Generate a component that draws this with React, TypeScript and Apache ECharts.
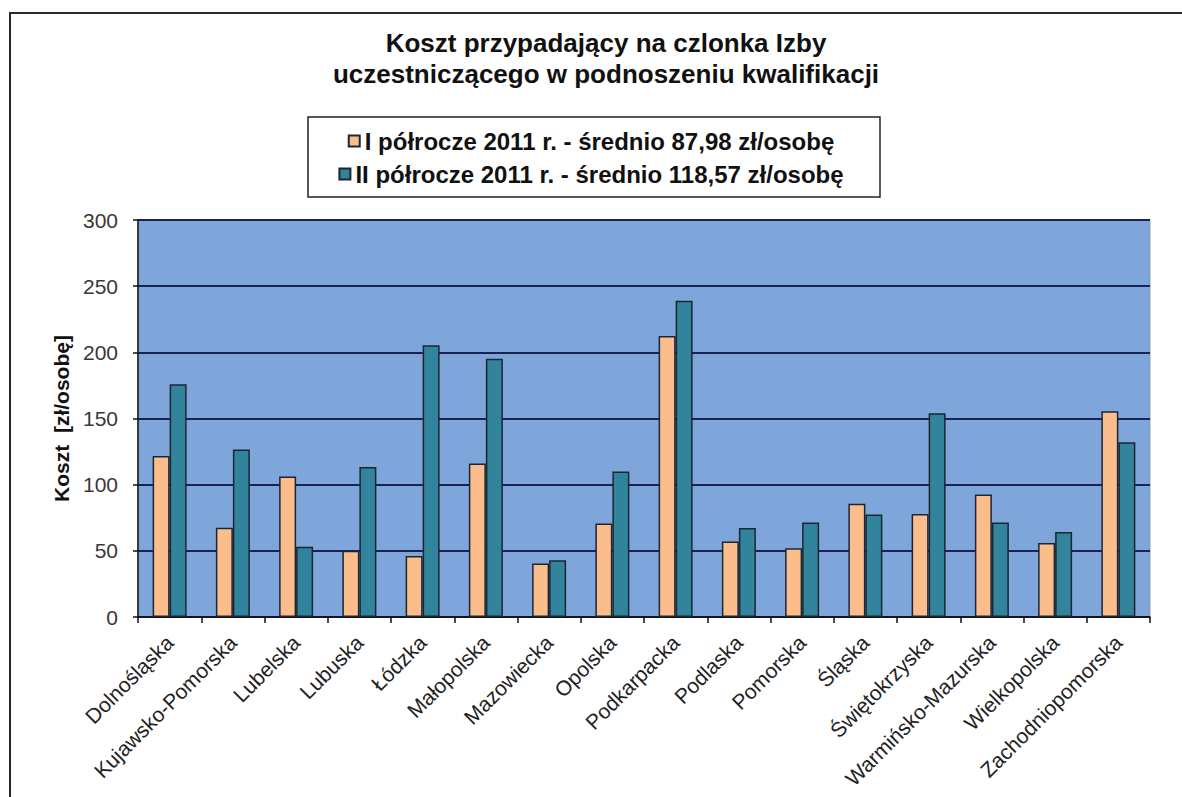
import React, { useEffect, useRef } from "react";
import * as echarts from "echarts";

const titleLines = ["Koszt przypadający na czlonka Izby", "uczestniczącego w podnoszeniu kwalifikacji"];
const seriesNames = [
  "I półrocze 2011 r. - średnio 87,98 zł/osobę",
  "II półrocze 2011 r. - średnio 118,57 zł/osobę",
];
const categories = [
  "Dolnośląska",
  "Kujawsko-Pomorska",
  "Lubelska",
  "Lubuska",
  "Łódzka",
  "Małopolska",
  "Mazowiecka",
  "Opolska",
  "Podkarpacka",
  "Podlaska",
  "Pomorska",
  "Śląska",
  "Świętokrzyska",
  "Warmińsko-Mazurska",
  "Wielkopolska",
  "Zachodniopomorska",
];
const half1 = [121.6, 67.5, 106.2, 50.1, 46.1, 116.0, 40.5, 70.7, 212.4, 57.1, 51.9, 85.6, 77.8, 92.6, 55.9, 155.5];
const half2 = [175.9, 126.6, 53.1, 113.3, 205.4, 195.1, 42.8, 110.0, 238.9, 67.2, 71.5, 77.5, 154.0, 71.5, 64.2, 132.1];
const yAxisName = "Koszt  [zł/osobę]";
const yTicks = { min: 0, max: 300, interval: 50 };

const FONT = "'Liberation Sans', Arial, sans-serif";

export default function App() {
  const ref = useRef<HTMLDivElement>(null);
  useEffect(() => {
    if (!ref.current) return;
    const chart = echarts.init(ref.current, null, { renderer: "svg" });
    const borderColor = "#1c2633";
    const legendText = { fontFamily: FONT, fontWeight: "bold", fontSize: 24, color: "#111" };
    chart.setOption({
      animation: false,
      backgroundColor: "#ffffff",
      graphic: [
        {
          type: "rect",
          shape: { x: 10, y: 13, width: 1200, height: 820 },
          style: { fill: "none", stroke: "#2a2a2a", lineWidth: 2 },
          silent: true,
        },
        {
          type: "rect",
          shape: { x: 308, y: 117, width: 572, height: 80 },
          style: { fill: "#ffffff", stroke: "#222", lineWidth: 1.5 },
          z: -1,
          silent: true,
        },
        {
          type: "text",
          x: 606,
          y: 27,
          style: {
            text: titleLines.join("\n"),
            font: `bold 26px ${FONT}`,
            fill: "#111",
            textAlign: "center",
            lineHeight: 31,
          },
        },
      ],
      legend: [
        {
          data: [seriesNames[0]],
          left: "center",
          top: 129,
          padding: 0,
          itemWidth: 11,
          itemHeight: 11,
          icon: "rect",
          textStyle: legendText,
        },
        {
          data: [seriesNames[1]],
          left: "center",
          top: 162,
          padding: 0,
          itemWidth: 11,
          itemHeight: 11,
          icon: "rect",
          textStyle: legendText,
        },
      ],
      grid: {
        left: 138,
        top: 220,
        right: 32,
        bottom: 180,
        show: true,
        backgroundColor: "#7ea6da",
        borderColor: "#8c9bb0",
        borderWidth: 1,
      },
      xAxis: {
        type: "category",
        data: categories,
        axisLine: { lineStyle: { color: "#111", width: 1.5 } },
        axisTick: { show: true, length: 6, interval: 0, lineStyle: { color: "#111", width: 1.5 } },
        axisLabel: {
          interval: 0,
          rotate: 45,
          fontFamily: FONT,
          fontSize: 21,
          color: "#222",
          margin: 22,
        },
      },
      yAxis: {
        type: "value",
        min: yTicks.min,
        max: yTicks.max,
        interval: yTicks.interval,
        name: yAxisName,
        nameLocation: "middle",
        nameGap: 52,
        nameTextStyle: { fontFamily: FONT, fontWeight: "bold", fontSize: 21, color: "#111" },
        axisLine: { show: true, lineStyle: { color: "#111", width: 1.5 } },
        axisTick: { show: true, length: 5, lineStyle: { color: "#111", width: 1.5 } },
        axisLabel: { fontFamily: FONT, fontSize: 21, color: "#383838", margin: 20 },
        splitLine: { show: true, lineStyle: { color: "#1b2150", width: 2 } },
      },
      series: [
        {
          name: seriesNames[0],
          type: "bar",
          data: half1,
          barWidth: 17,
          barGap: "0%",
          itemStyle: { color: "#fbbd8b", borderColor, borderWidth: 1.5 },
        },
        {
          name: seriesNames[1],
          type: "bar",
          data: half2,
          barWidth: 17,
          barGap: "0%",
          itemStyle: { color: "#31849b", borderColor, borderWidth: 1.5 },
        },
      ],
    });
    return () => chart.dispose();
  }, []);
  return (
    <div
      ref={ref}
      style={{ position: "absolute", left: 0, top: 0, width: 1182, height: 797 }}
    />
  );
}
